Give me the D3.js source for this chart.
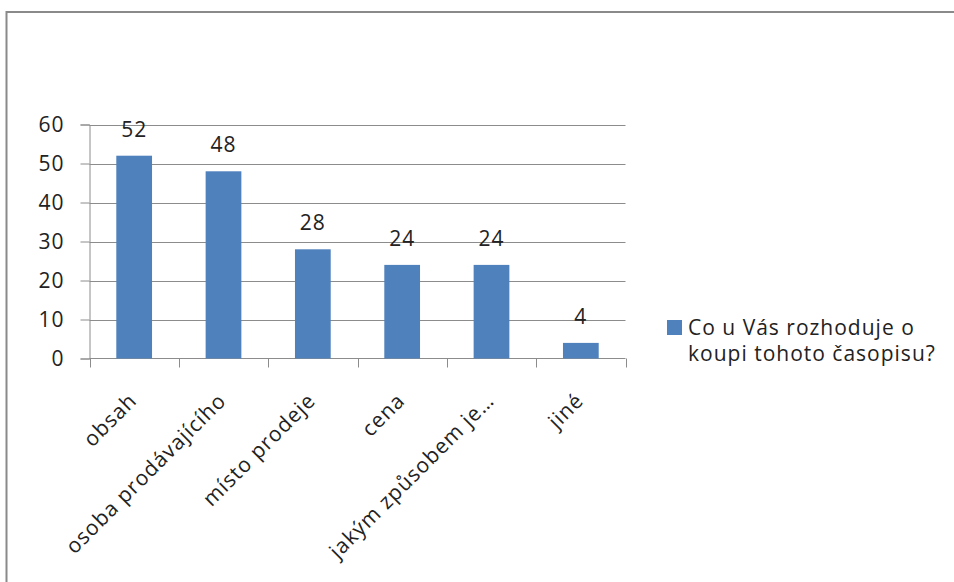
<!DOCTYPE html>
<html><head><meta charset="utf-8">
<script src="https://cdn.jsdelivr.net/npm/d3@7"></script>
<style>body{margin:0;background:#fff}svg{display:block}text{letter-spacing:1px}</style>
</head><body>
<svg id="c" width="954" height="582"></svg>
<script>
const categories = ["obsah","osoba prodávajícího","místo prodeje","cena","jakým způsobem je…","jiné"];
const values = [52,48,28,24,24,4];
const yTicks = [0,10,20,30,40,50,60];
const seriesName = ["Co u Vás rozhoduje o","koupi tohoto časopisu?"];

const svg = d3.select("#c");
const font = "'Open Sans', sans-serif";
const fs = 21;
// outer frame
svg.append("path").attr("d","M6.5,600 V12 H960").attr("fill","none").attr("stroke","#8a8a8a").attr("stroke-width",2);

const x = d3.scaleBand().domain(categories).range([89.5,625.5]).paddingInner(0.6).paddingOuter(0.3);
const xb = d3.scaleBand().domain(categories).range([89.5,625.5]);
const y = d3.scaleLinear().domain([0,60]).range([358.5,124.5]);

// gridlines
svg.append("g").selectAll("line").data(yTicks.filter(d=>d>0)).join("line")
  .attr("x1",89.5).attr("x2",625.5).attr("y1",d=>Math.round(y(d))+0.5).attr("y2",d=>Math.round(y(d))+0.5)
  .attr("stroke","#8c8c8c").attr("stroke-width",1);

// y axis
const ya = svg.append("g").attr("transform","translate(89.5,0)")
  .call(d3.axisLeft(y).tickValues(yTicks).tickSize(9).tickPadding(16));
ya.select(".domain").attr("stroke","#8c8c8c");
ya.selectAll(".tick line").attr("stroke","#8c8c8c");
ya.selectAll("text").attr("font-family",font).attr("font-size",fs).attr("fill","#222");

// x axis
const xa = svg.append("g").attr("transform","translate(0,358.5)");
xa.append("line").attr("x1",89.5).attr("x2",625.5).attr("stroke","#8c8c8c");
xa.selectAll(".t").data(categories.map(c=>xb(c)).concat([xb.range()[1]])).join("line")
  .attr("x1",d=>Math.round(d)+0.5).attr("x2",d=>Math.round(d)+0.5).attr("y1",0).attr("y2",9).attr("stroke","#8c8c8c");

// bars
svg.append("g").selectAll("rect").data(values).join("rect")
  .attr("x",(d,i)=>x(categories[i])).attr("width",x.bandwidth())
  .attr("y",d=>y(d)).attr("height",d=>y(0)-y(d)).attr("fill","#4f81bd");

// data labels
svg.append("g").selectAll("text").data(values).join("text")
  .attr("x",(d,i)=>xb(categories[i])+xb.bandwidth()/2).attr("y",d=>y(d)-19)
  .attr("text-anchor","middle").attr("font-family",font).attr("font-size",fs).attr("fill","#222").text(d=>d);

// x labels rotated
svg.append("g").selectAll("text").data(categories).join("text")
  .attr("transform",d=>`translate(${xb(d)+xb.bandwidth()/2+4},${402}) rotate(-45)`)
  .attr("text-anchor","end").attr("font-family",font).attr("font-size",fs).attr("fill","#222").text(d=>d);

// legend
svg.append("rect").attr("x",667).attr("y",320).attr("width",15).attr("height",15).attr("fill","#4f81bd");
svg.append("g").selectAll("text").data(seriesName).join("text")
  .attr("x",688).attr("y",(d,i)=>335+i*26).attr("font-family",font).attr("font-size",fs).attr("fill","#222").text(d=>d);
</script>
</body></html>
